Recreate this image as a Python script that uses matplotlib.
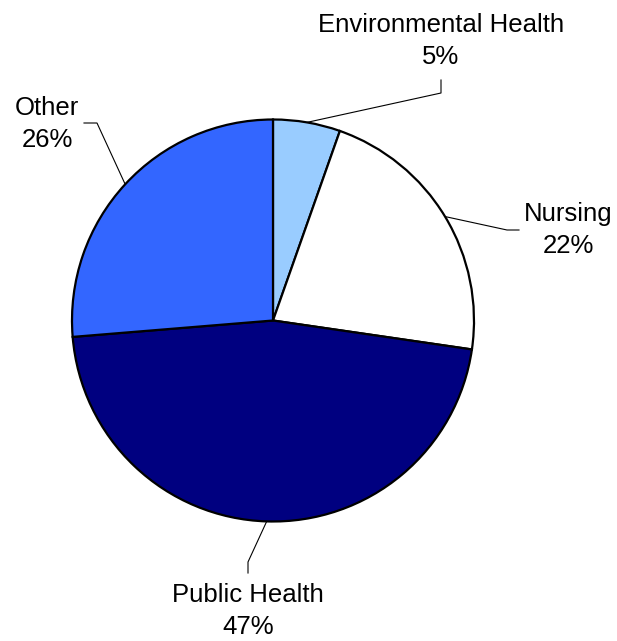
import numpy as np
import matplotlib.pyplot as plt

plt.rcParams['font.family'] = ['Liberation Sans', 'DejaVu Sans']

labels = ["Environmental Health", "Nursing", "Public Health", "Other"]
# slice sizes as drawn in the picture, and the percentages printed on it
shares = [5.4, 21.9, 46.4, 26.3]
pct_labels = ["5%", "22%", "47%", "26%"]
colors = ["#99CCFF", "#FFFFFF", "#000080", "#3366FF"]

# label layout in pixel space (elbow point, end of horizontal stub, text centre)
elbows = [(441, 93), (507, 230), (248, 562), (97, 123)]
stubs = [(441, 80), (519, 230), (248, 573), (84, 123)]
text_pos = [(441, 41), (568, 230), (248, 611), (47, 124)]

W, H = 617, 641
cx, cy, r = 273, 320.5, 201

fig = plt.figure(figsize=(W / 100, H / 100), dpi=100)
ax = fig.add_axes([0, 0, 1, 1])
wedges, _ = ax.pie(shares, colors=colors, startangle=90, counterclock=False,
                   center=(cx, cy), radius=r, frame=True,
                   wedgeprops=dict(edgecolor="black", linewidth=1.6))
ax.set_xlim(0, W)
ax.set_ylim(0, H)
ax.set_aspect("equal")
ax.axis("off")

for w, lab, pct, el, st, tp in zip(wedges, labels, pct_labels, elbows, stubs, text_pos):
    mid = np.deg2rad((w.theta1 + w.theta2) / 2)
    x0 = cx + r * np.cos(mid)
    y0 = cy + r * np.sin(mid)
    xs = [x0, el[0], st[0]]
    ys = [y0, H - el[1], H - st[1]]
    ax.plot(xs, ys, color="black", linewidth=0.8)
    ax.text(tp[0], H - tp[1], lab + "\n" + pct,
            ha="center", va="center", fontsize=18.5, linespacing=1.4)

fig.savefig("out.png", dpi=100)
